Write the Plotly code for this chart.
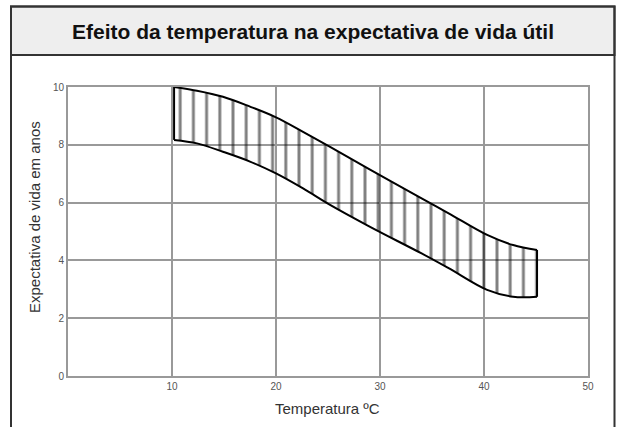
import plotly.graph_objects as go

# Data
temp = [10.2, 12.4, 14.9, 17.5, 20.0, 22.6, 25.2, 29.0, 34.0, 36.6, 40.3, 42.8, 45.1]
life_upper = [10.0, 9.87, 9.66, 9.32, 8.95, 8.45, 7.93, 7.15, 6.15, 5.63, 4.88, 4.53, 4.36]
life_lower = [8.17, 8.05, 7.76, 7.42, 7.01, 6.49, 5.92, 5.17, 4.24, 3.73, 2.98, 2.74, 2.74]

x_ticks = [10, 20, 30, 40, 50]
y_ticks = [0, 2, 4, 6, 8, 10]

FONT = "Liberation Sans, Arial, sans-serif"

fig = go.Figure()
fig.add_trace(go.Scatter(
    x=temp, y=life_lower, mode="lines",
    line=dict(color="black", width=2, shape="spline", smoothing=1),
    hoverinfo="skip", showlegend=False))
fig.add_trace(go.Scatter(
    x=temp, y=life_upper, mode="lines", fill="tonexty",
    fillcolor="rgba(0,0,0,0)",
    fillpattern=dict(shape="|", size=13.2, solidity=0.22,
                     fgcolor="black", bgcolor="rgba(0,0,0,0)"),
    line=dict(color="black", width=2, shape="spline", smoothing=1),
    hoverinfo="skip", showlegend=False))
# closing vertical edges of the band
fig.add_trace(go.Scatter(
    x=[temp[0], temp[0], None, temp[-1], temp[-1]],
    y=[life_lower[0], life_upper[0], None, life_lower[-1], life_upper[-1]],
    mode="lines", line=dict(color="black", width=2),
    hoverinfo="skip", showlegend=False))

W, H = 620, 427
PX0, PX1, PY0, PY1 = 68, 588, 87, 376   # plot area in pixels
L, R, T, B = PX0, W - PX1, PY0, H - PY1
pw, ph = PX1 - PX0, PY1 - PY0

def px(xp):
    return (xp - PX0) / pw

def py(yp):
    return (PY1 - yp) / ph

fig.update_layout(
    width=W, height=H,
    margin=dict(l=L, r=R, t=T, b=B, pad=0),
    paper_bgcolor="white", plot_bgcolor="white",
    font=dict(family=FONT, color="#444"),
    shapes=[
        dict(type="rect", xref="paper", yref="paper", layer="below",
             x0=px(11), x1=px(614.5), y0=py(55), y1=py(6.5),
             fillcolor="#eeeeee", line=dict(color="#333", width=2)),
        dict(type="rect", xref="paper", yref="paper", layer="below",
             x0=px(11), x1=px(614.5), y0=py(460), y1=py(6.5),
             fillcolor="rgba(0,0,0,0)", line=dict(color="#333", width=2)),
    ],
    annotations=[
        dict(text="<b>Efeito da temperatura na expectativa de vida útil</b>",
             xref="paper", yref="paper", x=px(312.5), y=py(31.5),
             xanchor="center", yanchor="middle", showarrow=False,
             font=dict(size=21, color="#111", family=FONT)),
        dict(text="Temperatura ºC",
             xref="paper", yref="paper", x=px(327.5), y=py(408),
             xanchor="center", yanchor="middle", showarrow=False,
             font=dict(size=15, color="#333", family=FONT)),
        dict(text="Expectativa de vida em anos", textangle=-90,
             xref="paper", yref="paper", x=px(34), y=py(217),
             xanchor="center", yanchor="middle", showarrow=False,
             font=dict(size=15, color="#333", family=FONT)),
    ],
    xaxis=dict(range=[0, 50], tickvals=x_ticks, ticktext=[str(v) for v in x_ticks],
               showgrid=True, gridcolor="#999", gridwidth=2,
               showline=True, mirror=True, linecolor="#999", linewidth=2,
               zeroline=False, ticks="", tickfont=dict(size=10, color="#555"),
               fixedrange=True),
    yaxis=dict(range=[0, 10], tickvals=y_ticks, ticktext=[str(v) for v in y_ticks],
               showgrid=True, gridcolor="#999", gridwidth=2,
               showline=True, mirror=True, linecolor="#999", linewidth=2,
               zeroline=False, ticks="", tickfont=dict(size=10, color="#555"),
               fixedrange=True),
)

fig.write_html(
    "out.html",
    config={"displayModeBar": False},
    post_script="document.body.style.margin='0';document.body.style.overflow='hidden';",
)
